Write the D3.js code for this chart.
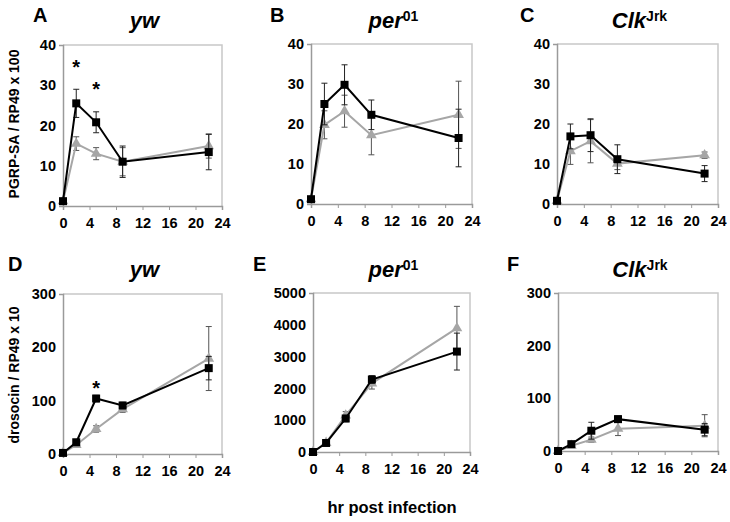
<!DOCTYPE html>
<html>
<head>
<meta charset="utf-8">
<script src="https://cdn.jsdelivr.net/npm/d3@7"></script>
<style>
  html, body { margin: 0; padding: 0; background: #fff; }
  svg { display: block; font-family: "Liberation Sans", Arial, sans-serif; }
</style>
</head>
<body>
<svg id="chart" width="730" height="522"></svg>
<script>
// ---------- data ----------
const hours = [0, 2, 5, 9, 22];
const xTicks = [0, 4, 8, 12, 16, 20, 24];
const yTicksPgrp = [0, 10, 20, 30, 40];
const yTicksDro = [0, 100, 200, 300];
const yTicksDroPer = [0, 1000, 2000, 3000, 4000, 5000];

// A: yw PGRP-SA
const pgrpYwBlack    = [1.2, 25.5, 20.8, 11.0, 13.4];
const pgrpYwBlackErr = [0, 3.5, 2.6, 3.9, 4.4];
const pgrpYwGray     = [1.2, 15.5, 13.0, 11.0, 14.9];
const pgrpYwGrayErr  = [0, 1.7, 1.5, 3.5, 3.0];
// B: per01 PGRP-SA
const pgrpPerBlack    = [1.2, 25.0, 29.8, 22.3, 16.5];
const pgrpPerBlackErr = [0, 5.2, 5.0, 3.7, 7.2];
const pgrpPerGray     = [1.2, 19.8, 23.2, 17.2, 22.3];
const pgrpPerGrayErr  = [0, 3.5, 4.0, 4.9, 8.4];
// C: ClkJrk PGRP-SA
const pgrpClkBlack    = [0.8, 16.9, 17.2, 11.2, 7.6];
const pgrpClkBlackErr = [0, 3.1, 4.1, 3.6, 2.0];
const pgrpClkGray     = [0.8, 13.2, 15.7, 10.1, 12.2];
const pgrpClkGrayErr  = [0, 3.3, 5.4, 1.5, 0.8];
// D: yw drosocin
const droYwBlack    = [2, 22, 104, 91, 161];
const droYwBlackErr = [0, 3, 6, 6, 22];
const droYwGray     = [2, 17, 47, 84, 179];
const droYwGrayErr  = [0, 3, 6, 6, 60];
// E: per01 drosocin
const droPerBlack    = [0, 284, 1053, 2280, 3158];
const droPerBlackErr = [0, 60, 100, 120, 580];
const droPerGray     = [0, 290, 1150, 2160, 3895];
const droPerGrayErr  = [0, 60, 120, 180, 685];
// F: ClkJrk drosocin
const droClkBlack    = [0, 13, 38.5, 60.5, 40.5];
const droClkBlackErr = [0, 3, 16, 6, 11.5];
const droClkGray     = [0, 10, 21.5, 42.3, 48];
const droClkGrayErr  = [0, 2, 5, 13, 21];

// significance marks (hour, value)
const starsYwPgrp = [[2, 35], [5, 29.6]];
const starsYwDro  = [[5, 128]];

const panelLetters = ["A", "B", "C", "D", "E", "F"];
const genotypes = [
  {main: "yw", sup: ""}, {main: "per", sup: "01"}, {main: "Clk", sup: "Jrk"},
  {main: "yw", sup: ""}, {main: "per", sup: "01"}, {main: "Clk", sup: "Jrk"}
];
const yTitles = ["PGRP-SA / RP49 x 100", "drosocin / RP49 x 10"];
const xTitle = "hr post infection";

// ---------- layout ----------
const boxes = [
  {x0: 63,  x1: 222, y0: 45, y1: 206, lx: 33,  ly: 22,  tb: 28},
  {x0: 311, x1: 472, y0: 44, y1: 204, lx: 270, ly: 22,  tb: 28},
  {x0: 557, x1: 718, y0: 44, y1: 204, lx: 520, ly: 22,  tb: 28},
  {x0: 63,  x1: 222, y0: 294, y1: 454, lx: 8,   ly: 271, tb: 277},
  {x0: 313, x1: 470, y0: 293, y1: 452, lx: 253, ly: 271, tb: 277},
  {x0: 558, x1: 718, y0: 293, y1: 451, lx: 507, ly: 271, tb: 277}
];

const panels = [
  {ticks: yTicksPgrp, black: pgrpYwBlack, bErr: pgrpYwBlackErr, gray: pgrpYwGray, gErr: pgrpYwGrayErr, stars: starsYwPgrp},
  {ticks: yTicksPgrp, black: pgrpPerBlack, bErr: pgrpPerBlackErr, gray: pgrpPerGray, gErr: pgrpPerGrayErr, stars: []},
  {ticks: yTicksPgrp, black: pgrpClkBlack, bErr: pgrpClkBlackErr, gray: pgrpClkGray, gErr: pgrpClkGrayErr, stars: []},
  {ticks: yTicksDro, black: droYwBlack, bErr: droYwBlackErr, gray: droYwGray, gErr: droYwGrayErr, stars: starsYwDro},
  {ticks: yTicksDroPer, black: droPerBlack, bErr: droPerBlackErr, gray: droPerGray, gErr: droPerGrayErr, stars: []},
  {ticks: yTicksDro, black: droClkBlack, bErr: droClkBlackErr, gray: droClkGray, gErr: droClkGrayErr, stars: []}
];

const svg = d3.select("#chart");
const GRAY = "#a6a6a6";
const AXIS = "#9a9a9a";
const FRAME = "#c8c8c8";

panels.forEach((p, i) => {
  const b = boxes[i];
  const x = d3.scaleLinear().domain([0, 24]).range([b.x0, b.x1]);
  const y = d3.scaleLinear().domain([0, d3.max(p.ticks)]).range([b.y1, b.y0]);
  const g = svg.append("g");

  // frame (top & right)
  g.append("path")
    .attr("d", `M${b.x0},${b.y0}H${b.x1}V${b.y1}`)
    .attr("fill", "none").attr("stroke", FRAME).attr("stroke-width", 1.5);

  // axes
  const ya = g.append("g").attr("transform", `translate(${b.x0},0)`)
    .call(d3.axisLeft(y).tickValues(p.ticks).tickSize(4).tickPadding(4).tickFormat(d3.format("d")));
  const xa = g.append("g").attr("transform", `translate(0,${b.y1})`)
    .call(d3.axisBottom(x).tickValues(xTicks).tickSize(4).tickPadding(8).tickFormat(d3.format("d")));
  [ya, xa].forEach(a => {
    a.select(".domain").attr("stroke", AXIS).attr("stroke-width", 1.5);
    a.selectAll(".tick line").attr("stroke", AXIS).attr("stroke-width", 1);
    a.selectAll(".tick text").attr("fill", "#000").attr("font-weight", "bold")
      .attr("font-size", 14.5).attr("font-family", "Liberation Sans, Arial, sans-serif");
  });
  ya.selectAll(".tick line").attr("x2", 0).attr("x1", 0);
  ya.selectAll(".tick text").attr("x", -7);

  const line = d3.line().x((d, j) => x(hours[j])).y(d => y(d));

  function drawSeries(vals, errs, color, errColor, marker) {
    // error bars
    const eg = g.append("g");
    vals.forEach((v, j) => {
      if (!errs[j]) return;
      const cx = x(hours[j]);
      const yt = y(v + errs[j]), yb = y(v - errs[j]);
      eg.append("line").attr("x1", cx).attr("x2", cx).attr("y1", yt).attr("y2", yb)
        .attr("stroke", errColor).attr("stroke-width", 1);
      [yt, yb].forEach(yy => eg.append("line").attr("x1", cx - 3).attr("x2", cx + 3)
        .attr("y1", yy).attr("y2", yy).attr("stroke", errColor).attr("stroke-width", 1));
    });
    g.append("path").datum(vals).attr("d", line)
      .attr("fill", "none").attr("stroke", color).attr("stroke-width", 2);
    const sym = d3.symbol().type(marker === "square" ? d3.symbolSquare : d3.symbolTriangle)
      .size(marker === "square" ? 64 : 50);
    g.selectAll(null).data(vals).enter().append("path")
      .attr("d", sym)
      .attr("transform", (d, j) => `translate(${x(hours[j])},${y(d)})`)
      .attr("fill", color);
  }
  drawSeries(p.gray, p.gErr, GRAY, "#555", "triangle");
  drawSeries(p.black, p.bErr, "#000", "#222", "square");

  // stars
  p.stars.forEach(s => {
    g.append("text").attr("x", x(s[0])).attr("y", y(s[1]) + 9)
      .attr("text-anchor", "middle").attr("font-size", 20).attr("font-weight", "bold").text("*");
  });

  // panel letter
  svg.append("text").attr("x", b.lx).attr("y", b.ly)
    .attr("font-size", 20).attr("font-weight", "bold").text(panelLetters[i]);

  // genotype title
  const t = svg.append("text").attr("x", (b.x0 + b.x1) / 2 + 2).attr("y", b.tb)
    .attr("text-anchor", "middle").attr("font-weight", "bold");
  t.append("tspan").attr("font-style", "italic").attr("font-size", 22).text(genotypes[i].main);
  if (genotypes[i].sup) {
    t.append("tspan").attr("font-size", 14).attr("dy", -7).text(genotypes[i].sup);
  }
});

// y-axis titles
[[124, 0], [375, 1]].forEach(([cy, k]) => {
  svg.append("text").attr("transform", `translate(19,${cy}) rotate(-90)`)
    .attr("text-anchor", "middle").attr("font-size", 14).attr("font-weight", "bold")
    .text(yTitles[k]);
});
// x-axis title
svg.append("text").attr("x", 392).attr("y", 513).attr("text-anchor", "middle")
  .attr("font-size", 16.5).attr("font-weight", "bold").text(xTitle);
</script>
</body>
</html>
